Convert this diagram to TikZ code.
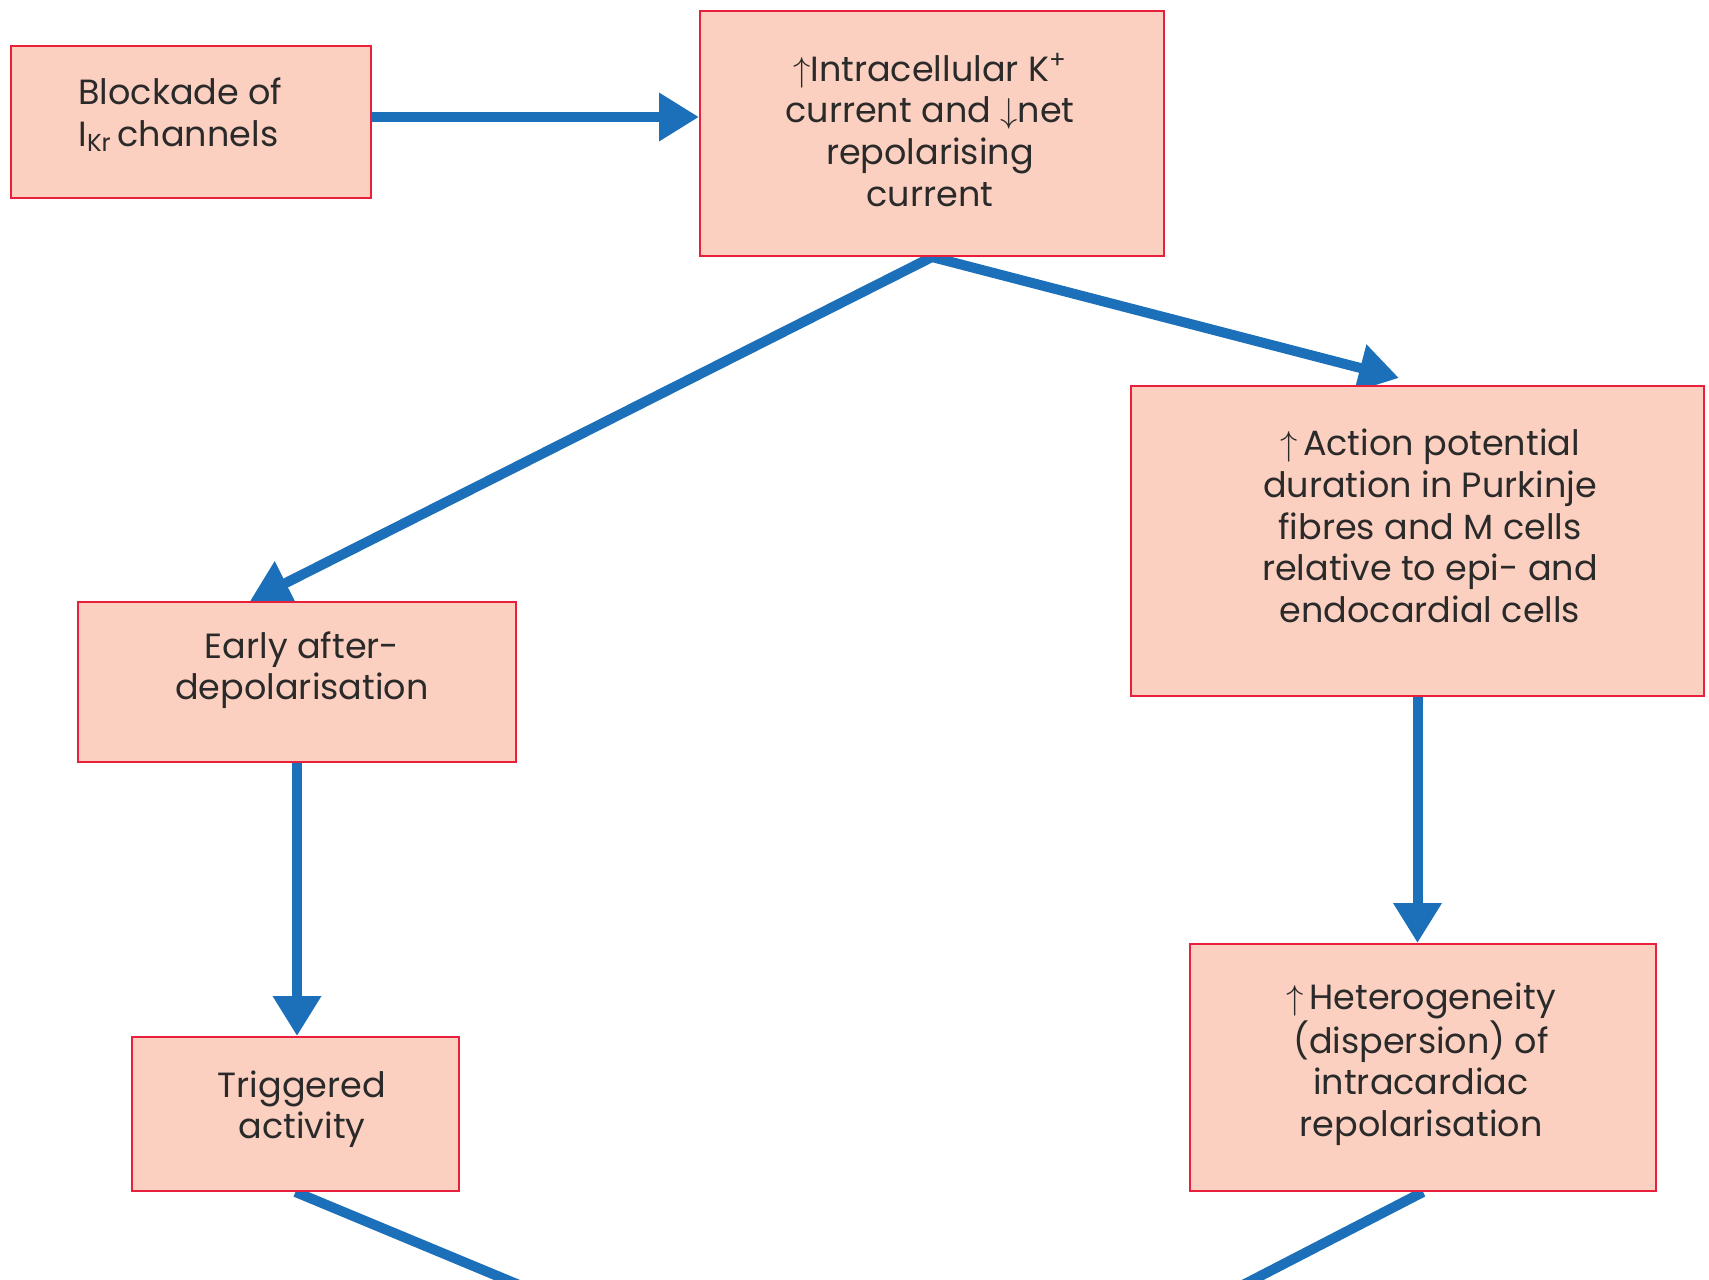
\documentclass[tikz,border=0pt]{standalone}
\usepackage{fontspec}
\setmainfont{Poppins}
\usetikzlibrary{arrows.meta,calc}
\definecolor{boxfill}{HTML}{FBD0C0}
\definecolor{boxline}{HTML}{E8203C}
\definecolor{arrowblue}{HTML}{1C70B9}
\definecolor{txtcol}{HTML}{2A2A2A}
\pgfdeclarelayer{bg}
\pgfsetlayers{bg,main}
\begin{document}
\begin{tikzpicture}[x=0.5pt,y=-0.5pt,
 box/.style={draw=boxline, fill=boxfill, line width=1pt, inner sep=0pt},
 txt/.style={text=txtcol, font=\fontsize{17.5}{20.8}\selectfont, align=center, inner sep=0pt},
 flow/.style={draw=arrowblue, line width=5pt, -{Triangle[length=20pt,width=23pt]}},
 edgeline/.style={draw=arrowblue, line width=5pt}]
\useasboundingbox (0,0) rectangle (1709,1280);
\clip (0,0) rectangle (1709,1280);
% boxes
\node[box, minimum width=180pt, minimum height=76pt] (b1) at (191,122) {};
\node[box, minimum width=232pt, minimum height=122.5pt] (b2) at (932,133.5) {};
\node[box, minimum width=286.5pt, minimum height=155pt] (b3) at (1417.5,541) {};
\node[box, minimum width=219pt, minimum height=80pt] (b4) at (297,682) {};
\node[box, minimum width=163.5pt, minimum height=77pt] (b5) at (295.5,1114) {};
\node[box, minimum width=233pt, minimum height=123.5pt] (b6) at (1423,1067.5) {};
% texts
\node[txt, align=left, anchor=west] (t1) at (78,115) {Blockade of\\I\textsubscript{Kr}\,channels};
\node[txt] (t2) at (930,130) {$\uparrow$Intracellular K\textsuperscript{+}\\current and $\downarrow$net\\repolarising\hspace*{13pt}\\current};
\node[txt] (t3) at (1430,526) {$\uparrow$\,Action potential\\duration in Purkinje\\fibres and M cells\\relative to epi- and\\endocardial cells};
\node[txt] (t4) at (302,670) {Early after-\\depolarisation};
\node[txt] (t5) at (302,1109) {Triggered\\activity};
\node[txt] (t6) at (1421,1064) {$\uparrow$\,Heterogeneity\\(dispersion) of\\intracardiac\\repolarisation};
% connectors
\coordinate (a1s) at ($(b1.east)+(0,-5)$);
\coordinate (a2e) at ($(b4.north west)+(173,0)$);
\coordinate (a3e) at ($(b3.north west)+(269,-7)$);
\coordinate (e1) at (560,1302);
\coordinate (e2) at (1210,1302);
\begin{pgfonlayer}{bg}
\draw[flow] (a1s) -- (a1s -| b2.west);
\draw[flow] (b2.south) -- (a2e);
\draw[flow] (b2.south) -- (a3e);
\draw[flow] (b3.south) -- (b3.south |- b6.north);
\draw[flow] (b4.south) -- (b4.south |- b5.north);
\draw[edgeline] (b5.south) -- (e1);
\draw[edgeline] (b6.south) -- (e2);
\end{pgfonlayer}
\end{tikzpicture}
\end{document}
